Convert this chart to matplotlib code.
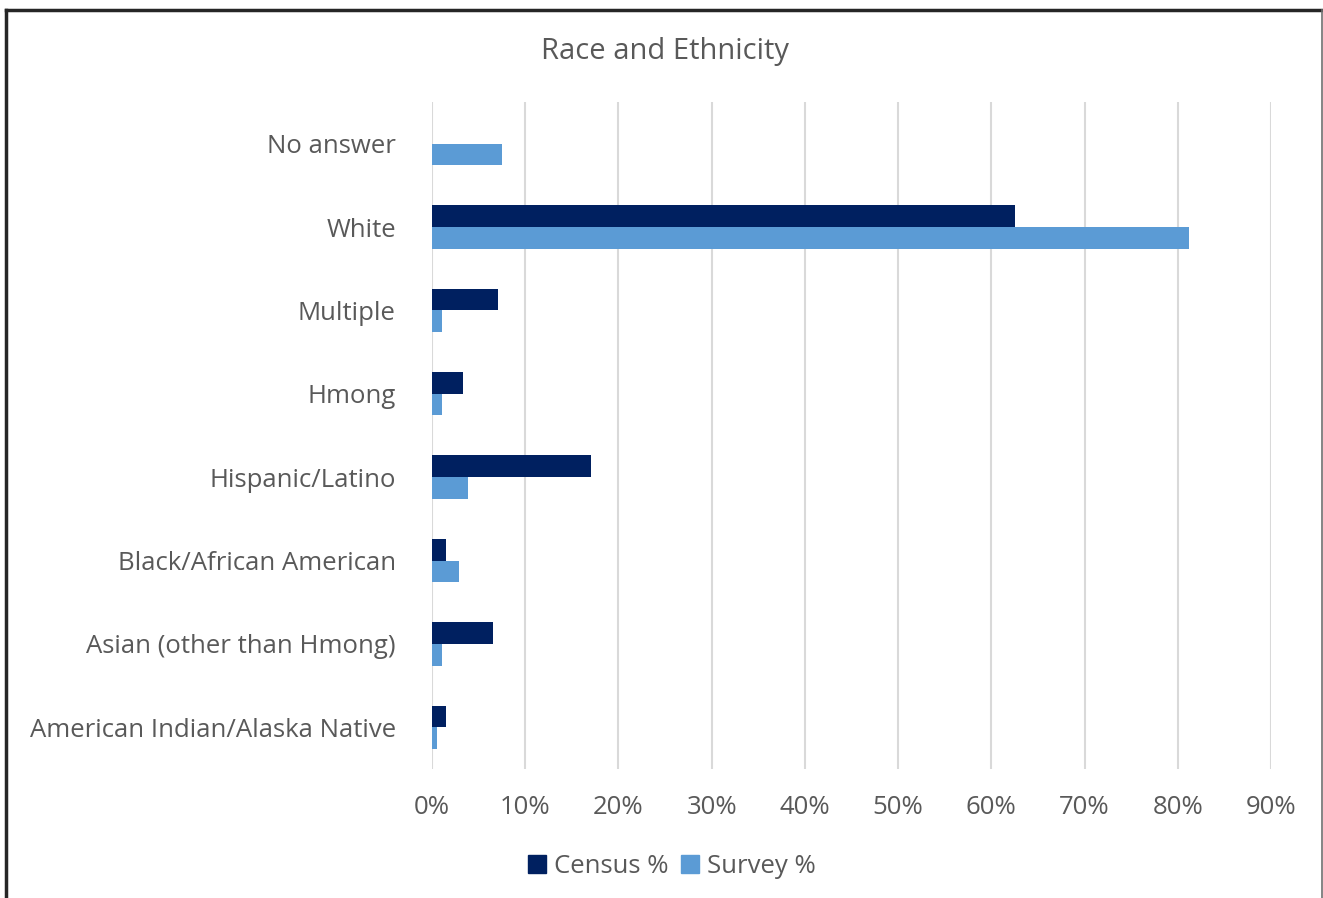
import matplotlib
matplotlib.use("Agg")
import matplotlib.pyplot as plt
from matplotlib.lines import Line2D
from matplotlib.patches import Patch
import numpy as np

# данные (в процентах)
categories = ["No answer", "White", "Multiple", "Hmong", "Hispanic/Latino",
              "Black/African American", "Asian (other than Hmong)",
              "American Indian/Alaska Native"]
census = [0.0, 62.5, 7.1, 3.3, 17.1, 1.5, 6.5, 1.5]
survey = [7.5, 81.2, 1.1, 1.1, 3.9, 2.9, 1.1, 0.5]
x_ticks = [0, 10, 20, 30, 40, 50, 60, 70, 80, 90]

census_color = "#002060"
survey_color = "#5B9BD5"
text_color = "#595959"

plt.rcParams["font.family"] = ["Open Sans", "DejaVu Sans"]

fig = plt.figure(figsize=(13.23, 8.98), dpi=100)
ax = fig.add_axes([0.3265, 0.1437, 0.6342, 0.7427])

y = np.arange(len(categories))
h = 0.26
ax.barh(y - h / 2, census, height=h, color=census_color, zorder=3)
ax.barh(y + h / 2, survey, height=h, color=survey_color, zorder=3)

ax.set_ylim(len(categories) - 0.5, -0.5)
ax.set_xlim(0, 90)
ax.set_xticks(x_ticks)
ax.set_xticklabels([f"{t}%" for t in x_ticks])
ax.set_yticks(y)
ax.set_yticklabels(categories)

ax.tick_params(axis="x", length=0, pad=19, labelsize=18.5, labelcolor=text_color)
ax.tick_params(axis="y", length=0, pad=26, labelsize=18.5, labelcolor=text_color)
ax.xaxis.grid(True, color="#d9d9d9", linewidth=1.5, zorder=0)
for s in ax.spines.values():
    s.set_visible(False)

fig.text(0.503, 0.943, "Race and Ethnicity", ha="center", va="center",
         fontsize=21, color=text_color)

handles = [Patch(color=census_color), Patch(color=survey_color)]
fig.legend(handles, ["Census %", "Survey %"], loc="center",
           bbox_to_anchor=(0.508, 0.035), ncol=2, frameon=False,
           fontsize=18.5, labelcolor=text_color, handlelength=0.7,
           handleheight=0.7, handletextpad=0.3, columnspacing=0.5)

# рамка вокруг картинки
fig.add_artist(Line2D([0.0045, 0.0045], [0, 0.989], color="#262626", lw=2.5))
fig.add_artist(Line2D([0.0045, 0.999], [0.989, 0.989], color="#262626", lw=2.5))
fig.add_artist(Line2D([0.999, 0.999], [0, 0.989], color="#707070", lw=1.2))

fig.savefig("out.png", dpi=100)
